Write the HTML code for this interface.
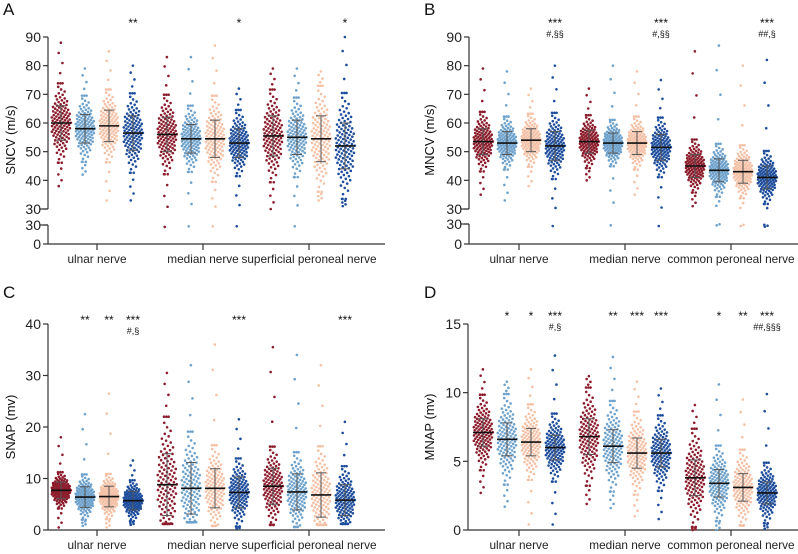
<!DOCTYPE html>
<html><head><meta charset="utf-8"><style>
body{margin:0;background:#fff;}
svg{display:block;font-family:"Liberation Sans",sans-serif;}
</style></head><body>
<svg id="chart" width="798" height="554" viewBox="0 0 798 554"></svg>
<script>
const colors=['#8c1c2c','#6ea2cc','#f4c1a6','#1d4d9c'];
const groupsA=['ulnar nerve','median nerve','superficial peroneal nerve'];
const groupsB=['ulnar nerve','median nerve','common peroneal nerve'];
// Panel A SNCV
const meanA=[[60,56,55.5],[58,54.5,55],[59,54.5,54.5],[56.5,53,52]];
const sdA=[[6,6,7],[5,5,6],[5.5,6.5,8],[6,5,8]];
const minA=[[38,27,30],[42,28,28],[33,28,33],[33,28,31]];
const maxA=[[88,83,79],[79,83,79],[85,87,78],[80,72,90]];
// Panel B MNCV
const meanB=[[53.5,53.5,45],[53,53,43.5],[54,53,43],[52,51.5,41]];
const sdB=[[4.5,4,4],[4,3.5,4],[4,4,4],[5,4.5,4]];
const minB=[[35,40,31],[33,28,28],[38,35,27],[27,27,26]];
const maxB=[[79,72,85],[78,80,87],[72,78,80],[80,75,82]];
// Panel C SNAP
const meanC=[[7.7,8.8,8.5],[6.4,8.1,7.4],[6.5,8.1,6.8],[5.7,7.3,5.8]];
const sdC=[[1.6,6,3.5],[2,5,3.5],[2,3.8,4.3],[1.8,3,3]];
const minC=[[0.5,1.2,1],[0.8,1.5,0.6],[0.5,0.8,1],[1,0.3,1.2]];
const maxC=[[18,30.5,35.5],[22.5,32,34],[26.5,36,32],[13.5,21.5,21]];
// Panel D MNAP
const meanD=[[7.1,6.8,3.8],[6.6,6.1,3.4],[6.4,5.6,3.1],[6,5.6,2.7]];
const sdD=[[1,1.3,1.3],[1.2,1.2,1],[1,1.1,1],[0.9,1,0.8]];
const minD=[[2.7,1.9,0],[1.7,1.6,0],[0.4,1,0.3],[0.4,0.8,0.1]];
const maxD=[[11.7,11.2,9.1],[10.8,12.6,10.6],[11.7,10.8,9.5],[12.7,10.3,9.9]];
// significance labels [group, series, line1, line2]
const sigA=[[0,3,'**',''],[1,3,'*',''],[2,3,'*','']];
const sigB=[[0,3,'***','#,§§'],[1,3,'***','#,§§'],[2,3,'***','##,§']];
const sigC=[[0,1,'**',''],[0,2,'**',''],[0,3,'***','#,§'],[1,3,'***',''],[2,3,'***','']];
const sigD=[[0,1,'*',''],[0,2,'*',''],[0,3,'***','#,§'],[1,1,'**',''],[1,2,'***',''],[1,3,'***',''],[2,1,'*',''],[2,2,'**',''],[2,3,'***','##,§§§']];

const NS='http://www.w3.org/2000/svg';
const svg=document.getElementById('chart');
function mk(tag,attrs,parent){const e=document.createElementNS(NS,tag);for(const k in attrs)e.setAttribute(k,attrs[k]);(parent||svg).appendChild(e);return e;}
function invn(p){return 4.91*(Math.pow(p,0.14)-Math.pow(1-p,0.14));}

function panel(cfg){
  const g=mk('g',{});
  
  
  const ax=cfg.ax, x1=cfg.xEnd, base=cfg.base;
  const t=mk('text',{x:cfg.lx,y:cfg.ly,'font-size':17,fill:'#111'},g);t.textContent=cfg.letter;
  
  
  const yt=mk('text',{x:0,y:0,'font-size':13,'text-anchor':'middle',fill:'#111',transform:`translate(${cfg.ytx},${cfg.yty}) rotate(-90)`},g);yt.textContent=cfg.ytitle;
  
  
  const axl=mk('g',{stroke:'#333','stroke-width':1.2,fill:'none'},g);
  
  
  if(cfg.brk){
    mk('line',{x1:ax,y1:cfg.y(cfg.ticks[cfg.ticks.length-1]),x2:ax,y2:cfg.y(30)},axl);
    mk('line',{x1:ax-8,y1:cfg.y(30),x2:ax,y2:cfg.y(30)},axl);
    mk('line',{x1:ax-8,y1:cfg.lowY(30),x2:ax,y2:cfg.lowY(30)},axl);
    mk('line',{x1:ax,y1:cfg.lowY(30),x2:ax,y2:base},axl);
  } else mk('line',{x1:ax,y1:cfg.y(cfg.ticks[cfg.ticks.length-1]),x2:ax,y2:base},axl);
  mk('line',{x1:ax,y1:base,x2:x1,y2:base},axl);
  cfg.ticks.forEach(v=>{const yy=cfg.y(v);mk('line',{x1:ax-5,y1:yy,x2:ax,y2:yy},axl);
    const tl=mk('text',{x:ax-7,y:yy+5,'font-size':14,'text-anchor':'end',fill:'#222',stroke:'none'},g);tl.textContent=v;
    
    });
  if(cfg.brk){[[30,cfg.lowY(30)],[0,base]].forEach(([v,yy])=>{mk('line',{x1:ax-5,y1:yy,x2:ax,y2:yy},axl);
    const tl=mk('text',{x:ax-7,y:yy+5,'font-size':14,'text-anchor':'end',fill:'#222'},g);tl.textContent=v;
    
    });}
  cfg.groups.forEach((gn,gi)=>{const cx=cfg.gx(gi);mk('line',{x1:cx,y1:base,x2:cx,y2:base+6},axl);
    const tl=mk('text',{x:cx,y:base+19,'font-size':11.8,'text-anchor':'middle',fill:'#222'},g);tl.textContent=gn;
    
    });
  const Y=v=>cfg.brk&&v<30?cfg.lowY(v):cfg.y(v);
  for(let s=0;s<4;s++)for(let gi=0;gi<3;gi++){
    const cx=cfg.gx(gi)+(s-1.5)*24;
    const sg=mk('g',{fill:colors[s]},g);
    
    
    const m=cfg.mean[s][gi],sd=cfg.sd[s][gi]*cfg.spread,lo=cfg.min[s][gi],hi=cfg.max[s][gi];
    const n=110;
    const tHi=Math.min(hi,m+2.2*sd),tLo=Math.max(lo,m-2.2*sd);
    for(let i=0;i<n;i++){const p=(i+0.5)/n;const z=invn(p);let v=m+sd*z;v=Math.max(tLo,Math.min(tHi,v));
      const f=((i*0.6180339)%1)*2-1;const w=8.5*Math.exp(-z*z/3)+1.5;
      mk('circle',{cx:cx+f*w,cy:Y(v),r:1.3},sg);}
    for(let k=0;k<=4;k++){const f=k/4;
      mk('circle',{cx:cx+((k*0.37)%1-0.5)*6,cy:Y(tHi+(hi-tHi)*f),r:1.3},sg);
      mk('circle',{cx:cx+((k*0.53)%1-0.5)*6,cy:Y(tLo-(tLo-lo)*f),r:1.3},sg);}
    const eb=mk('g',{stroke:'#555','stroke-width':1},g);
    
    
    const e=cfg.sd[s][gi];
    mk('line',{x1:cx,y1:Y(m-e),x2:cx,y2:Y(m+e)},eb);
    mk('line',{x1:cx-5,y1:Y(m-e),x2:cx+5,y2:Y(m-e)},eb);
    mk('line',{x1:cx-5,y1:Y(m+e),x2:cx+5,y2:Y(m+e)},eb);
    const ml=mk('line',{x1:cx-10,y1:Y(m),x2:cx+10,y2:Y(m),stroke:'#111','stroke-width':1.6},g);
    
    
  }
  cfg.sig.forEach(([gi,s,a,b])=>{const cx=cfg.gx(gi)+(s-1.5)*24;
    const t1=mk('text',{x:cx,y:cfg.sigY,'font-size':12,'text-anchor':'middle',fill:'#111'},g);t1.textContent=a;
    
    
    if(b){const t2=mk('text',{x:cx,y:cfg.sigY+10,'font-size':9,'text-anchor':'middle',fill:'#111'},g);t2.textContent=b;
      
      }});
}
function linY(v0,y0,v1,y1){return v=>y0+(v-v0)*(y1-y0)/(v1-v0);}
panel({name:'panel-a-sncv',letter:'A',lx:3,ly:15,ax:48,xEnd:385,base:244,brk:true,y:linY(30,209,90,37),lowY:linY(0,244,30,225),
  ticks:[30,40,50,60,70,80,90],gx:i=>97+i*106,groups:groupsA,ytitle:'SNCV (m/s)',ytx:15,yty:140,
  mean:meanA,sd:sdA,min:minA,max:maxA,spread:1.05,sig:sigA,sigY:27});
panel({name:'panel-b-mncv',letter:'B',lx:424,ly:15,ax:469,xEnd:798,base:244,brk:true,y:linY(30,209,90,37),lowY:linY(0,244,30,224),
  ticks:[30,40,50,60,70,80,90],gx:i=>519+i*106,groups:groupsB,ytitle:'MNCV (m/s)',ytx:434,yty:140,
  mean:meanB,sd:sdB,min:minB,max:maxB,spread:1.05,sig:sigB,sigY:27});
panel({name:'panel-c-snap',letter:'C',lx:3,ly:298,ax:48,xEnd:385,base:530,brk:false,y:linY(0,530,40,324),
  ticks:[0,10,20,30,40],gx:i=>97+i*106,groups:groupsA,ytitle:'SNAP (mv)',ytx:15,yty:427,
  mean:meanC,sd:sdC,min:minC,max:maxC,spread:1.0,sig:sigC,sigY:324});
panel({name:'panel-d-mnap',letter:'D',lx:424,ly:298,ax:468,xEnd:798,base:530,brk:false,y:linY(0,530,15,324),
  ticks:[0,5,10,15],gx:i=>519+i*106,groups:groupsB,ytitle:'MNAP (mv)',ytx:434,yty:427,
  mean:meanD,sd:sdD,min:minD,max:maxD,spread:1.25,sig:sigD,sigY:320});
</script>
</body></html>
